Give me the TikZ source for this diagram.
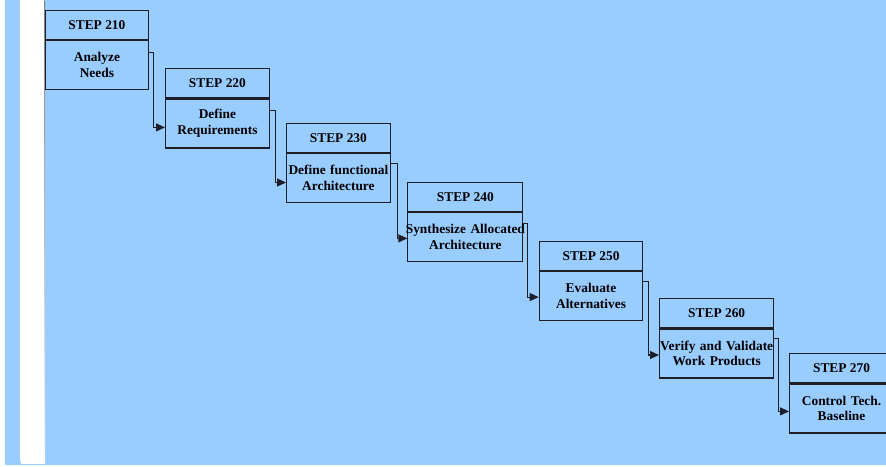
\documentclass[tikz,border=0pt]{standalone}
\usepackage{fontspec}
\setmainfont{Liberation Serif}
\usetikzlibrary{arrows.meta}
\definecolor{sky}{HTML}{99CCFF}
\definecolor{edge}{HTML}{1E1E28}
\definecolor{shade}{HTML}{C4C4C4}
% one centred line that may run past the box edges
\newcommand{\stepline}[1]{\hbox to\hsize{\hss #1\hss}}
\begin{document}
\begin{tikzpicture}[x=1pt,y=-1pt,
  boxtext/.style={font=\fontsize{13.4}{15.5}\selectfont\bfseries},
  header/.style={boxtext, draw=edge, line width=1.1pt, fill=sky,
    minimum height=29pt, inner sep=0pt, anchor=north west},
  body/.style={boxtext, draw=edge, line width=1.1pt, fill=sky,
    minimum height=49pt, inner sep=0pt, anchor=north west, align=center},
  conn/.style={draw=edge, line width=1.1pt, -{Triangle[length=9pt,width=8pt]}}]

% page, panel and side strip
\useasboundingbox (0,0) rectangle (886,466);
\fill[white] (0,0) rectangle (886,466);
\fill[sky] (5,0) rectangle (886,465);
\fill[shade] (21,1) rectangle (45,463);
\fill[white] (20,0) rectangle (44,462);
\clip (0,0) rectangle (886,466);

% step boxes: header with the step number, body with the activity
\node[header, minimum width=102.7pt] (h1) at (45,10) {STEP 210};
\node[body, minimum width=102.7pt, text width=102.7pt] (b1) at (h1.south west)
  {\stepline{Analyze}\\\stepline{Needs}};

\node[header, minimum width=103.7pt] (h2) at (165,68.3) {STEP 220};
\node[body, minimum width=103.7pt, text width=103.7pt] (b2) at (h2.south west)
  {\stepline{Define}\\\stepline{Requirements}};

\node[header, minimum width=103.7pt] (h3) at (286,122.7) {STEP 230};
\node[body, minimum width=103.7pt, text width=103.7pt] (b3) at (h3.south west)
  {\stepline{Define functional}\\\stepline{Architecture}};

\node[header, minimum width=115pt] (h4) at (407.3,181.7) {STEP 240};
\node[body, minimum width=115pt, text width=115pt] (b4) at (h4.south west)
  {\stepline{Synthesize Allocated}\\\stepline{Architecture}};

\node[header, minimum width=103.6pt] (h5) at (538.7,241) {STEP 250};
\node[body, minimum width=103.6pt, text width=103.6pt] (b5) at (h5.south west)
  {\stepline{Evaluate}\\\stepline{Alternatives}};

\node[header, minimum width=114.3pt] (h6) at (659,298.3) {STEP 260};
\node[body, minimum width=114.3pt, text width=114.3pt] (b6) at (h6.south west)
  {\stepline{Verify and Validate}\\\stepline{Work Products}};

\node[header, minimum width=104pt] (h7) at (789,353.3) {STEP 270};
\node[body, minimum width=104pt, text width=104pt] (b7) at (h7.south west)
  {\stepline{Control Tech.}\\\stepline{Baseline}};

% stepped connectors from each box to the next
\draw[conn] ([yshift=-12.7pt]b1.north east) -- ++(5,0) |- ([yshift=-29pt]b2.north west);
\draw[conn] ([yshift=-12pt]b2.north east) -- ++(5.3,0) |- ([yshift=-29.7pt]b3.north west);
\draw[conn] ([yshift=-10.7pt]b3.north east) -- ++(7,0) |- ([yshift=-26.6pt]b4.north west);
\draw[conn] ([yshift=-11.3pt]b4.north east) -- ++(4.4,0) |- ([yshift=-26pt]b5.north west);
\draw[conn] ([yshift=-10.3pt]b5.north east) -- ++(5.4,0) |- ([yshift=-26.6pt]b6.north west);
\draw[conn] ([yshift=-10.4pt]b6.north east) -- ++(4.4,0) |- ([yshift=-28pt]b7.north west);
\end{tikzpicture}
\end{document}
